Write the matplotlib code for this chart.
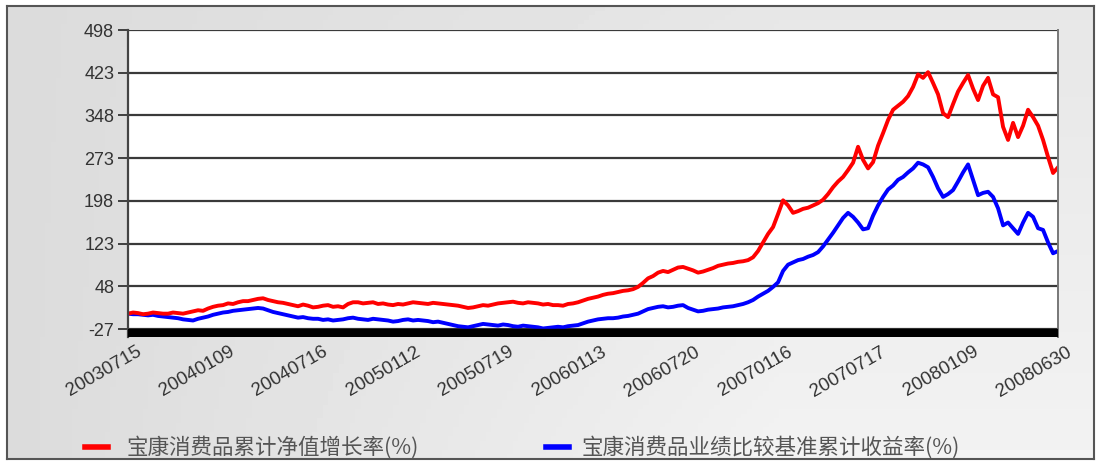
import numpy as np
import matplotlib
matplotlib.use("Agg")
from matplotlib import pyplot as plt
from matplotlib.lines import Line2D
from matplotlib.transforms import ScaledTranslation

plt.rcParams['font.family'] = ['Liberation Sans', 'DejaVu Sans']

# x tick labels (evenly spaced over the series)
date_labels = ['20030715', '20040109', '20040716', '20050112', '20050719', '20060113',
               '20060720', '20070116', '20070717', '20080109', '20080630']
y_ticks = [-27, 48, 123, 198, 273, 348, 423, 498]

# fund cumulative NAV growth (%)
fund = [0, 2, 1, -1, 0, 2, 1, 0, 0, 2,
        1, 0, 2, 4, 6, 5, 9, 12, 14, 15,
        18, 17, 20, 22, 22, 24, 26, 27, 24, 22,
        20, 19, 17, 15, 13, 16, 14, 11, 12, 14,
        15, 12, 13, 11, 17, 20, 20, 18, 19, 20,
        17, 18, 16, 15, 17, 16, 18, 20, 19, 18,
        17, 19, 18, 17, 16, 15, 14, 12, 10, 11,
        13, 15, 14, 16, 18, 19, 20, 21, 19, 18,
        20, 19, 18, 16, 17, 15, 15, 14, 17, 18,
        20, 23, 26, 28, 30, 33, 35, 36, 38, 40,
        41, 43, 47, 54, 62, 66, 72, 75, 73, 77,
        81, 82, 79, 76, 72, 74, 77, 80, 84, 86,
        88, 89, 91, 92, 94, 99, 110, 125, 140, 152,
        175, 199, 190, 177, 180, 184, 186, 190, 194, 200,
        210, 222, 232, 240, 252, 265, 293, 270, 255, 266,
        295, 317, 340, 358, 365, 372, 382, 398, 420, 414,
        424, 405, 385, 352, 345, 368, 390, 405, 419, 395,
        375, 400, 414, 385, 380, 328, 305, 335, 310, 330,
        358, 345, 330, 305, 275, 247, 257]

# benchmark cumulative return (%)
bench = [0, -1, -1, -2, -3, -2, -4, -5, -6, -7,
         -8, -10, -11, -12, -9, -7, -5, -2, 0, 2,
         3, 5, 6, 7, 8, 9, 10, 9, 6, 3,
         1, -1, -3, -5, -7, -6, -8, -9, -9, -11,
         -10, -12, -11, -10, -8, -7, -9, -10, -11, -9,
         -10, -11, -12, -14, -13, -11, -10, -12, -11, -12,
         -13, -15, -14, -16, -18, -20, -22, -23, -24, -22,
         -20, -18, -19, -20, -21, -19, -20, -22, -23, -21,
         -22, -23, -24, -26, -25, -24, -23, -24, -22, -21,
         -20, -17, -14, -12, -10, -9, -8, -8, -7, -5,
         -4, -2, 0, 4, 8, 10, 12, 13, 11, 12,
         14, 15, 10, 7, 4, 5, 7, 8, 9, 11,
         12, 13, 15, 17, 20, 24, 30, 35, 40, 47,
         55, 75, 86, 90, 94, 96, 100, 103, 108, 118,
         130, 142, 155, 168, 177, 170, 160, 148, 150, 172,
         190, 205, 218, 225, 235, 240, 248, 255, 265, 262,
         257, 240, 220, 205, 210, 217, 232, 248, 262, 235,
         208, 212, 214, 205, 185, 155, 160, 150, 140, 160,
         177, 170, 150, 147, 125, 106, 110]

legend_labels = ['宝康消费品累计净值增长率(%)', '宝康消费品业绩比较基准累计收益率(%)']

fig = plt.figure(figsize=(11.01, 4.66), dpi=100)
fig.patch.set_facecolor('white')

# gray gradient panel behind the chart
bg = fig.add_axes([0.006, 0.016, 0.988, 0.972], zorder=-5)
gx = np.linspace(0, 1, 200)
gy = np.linspace(0, 1, 100)
GX, GY = np.meshgrid(gx, gy)
shade = 0.86 + 0.09 * np.clip(GX * 1.4, 0, 1) * (0.5 + 0.5 * GY)
bg.imshow(shade, cmap='gray', vmin=0, vmax=1, aspect='auto', extent=[0, 1, 0, 1])
bg.set_xlim(0, 1)
bg.set_ylim(0, 1)
bg.set_xticks([])
bg.set_yticks([])
for s in bg.spines.values():
    s.set_color('#555555')
    s.set_linewidth(1.5)

ax = fig.add_axes([0.1163, 0.2768, 0.8447, 0.6588])
ax.set_facecolor('white')
x = np.arange(len(fund))
ax.set_xlim(0, len(fund) - 1)
ax.set_ylim(-41, 498)

ax.axhspan(-41, -27, color='black', zorder=3)
for yt in y_ticks:
    ax.axhline(yt, color='#3a3a3a', lw=1.6, zorder=1)

ax.plot(x, bench, color='#0000ff', lw=2.8, zorder=2)
ax.plot(x, fund, color='#ff0000', lw=2.8, zorder=2)

ax.set_yticks(y_ticks)
ax.set_yticklabels([str(v) for v in y_ticks], fontsize=13, color='#333333')
ax.tick_params(axis='y', length=7, width=1.3, color='#333333', pad=3)

xt = np.linspace(0, len(fund) - 1, len(date_labels))
ax.set_xticks(xt)
ax.set_xticklabels(date_labels, rotation=30, ha='right', rotation_mode='anchor',
                   fontsize=13.5, color='#333333')
ax.tick_params(axis='x', length=0, pad=6)
# labels sit a little right of their ticks in the original
shift = ScaledTranslation(8 / 100, 2 / 100, fig.dpi_scale_trans)
for lbl in ax.get_xticklabels():
    lbl.set_transform(lbl.get_transform() + shift)

ax.spines['left'].set_color('#444444')
ax.spines['left'].set_linewidth(1.6)
ax.spines['right'].set_color('#777777')
ax.spines['right'].set_linewidth(1.4)
ax.spines['top'].set_visible(False)
ax.spines['bottom'].set_visible(False)

# legend at the bottom
cjk = ['Noto Sans CJK SC', 'DejaVu Sans']
ly = 1 - 447 / 466
fig.add_artist(Line2D([85 / 1101, 108 / 1101], [ly, ly], color='#ff0000', lw=4))
fig.text(127 / 1101, ly, legend_labels[0], fontsize=15.5, color='#555555',
         va='center', family=cjk)
fig.add_artist(Line2D([546 / 1101, 569 / 1101], [ly, ly], color='#0000ff', lw=4))
fig.text(582 / 1101, ly, legend_labels[1], fontsize=15.5, color='#555555',
         va='center', family=cjk)

fig.savefig('out.png', dpi=100)
